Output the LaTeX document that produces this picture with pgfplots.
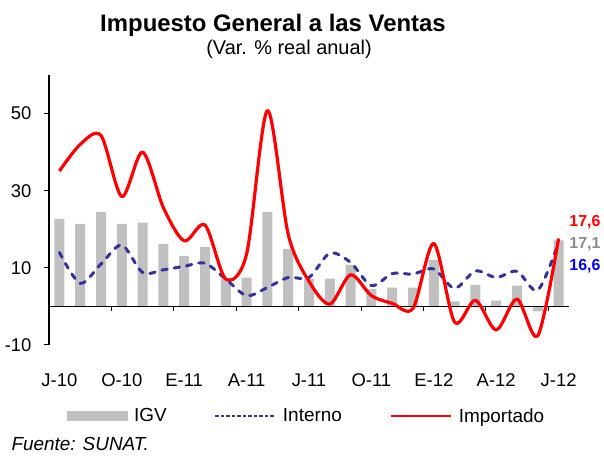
\documentclass[border=0pt]{standalone}
\usepackage{pgfplots}
\pgfplotsset{compat=1.18}
\usepackage{pgfplotstable}
\usepackage{fontspec}
\setmainfont{Liberation Sans}
\definecolor{igv}{HTML}{C0C0C0}
\definecolor{interno}{HTML}{333399}
\definecolor{importado}{HTML}{FF0000}
\definecolor{lblblue}{HTML}{0000FF}
\definecolor{lblgray}{HTML}{8C8C8C}

\pgfplotstableread{
i  igv   interno importado
0  22.7  14.0    35.1
1  21.4  6.0     42.0
2  24.5  11.0    44.3
3  21.4  15.9    28.5
4  21.7  8.8     40.0
5  16.2  9.5     25.6
6  13.1  10.4    17.0
7  15.4  11.2    21.1
8  7.3   7.1     7.1
9  7.5   2.8     13.6
10 24.5  4.9     50.8
11 14.9  7.5     18.7
12 7.1   7.5     6.5
13 7.2   13.8    0.6
14 10.8  11.4    8.2
15 4.5   5.4     2.8
16 4.9   8.5     0.8
17 4.9   8.4     -0.5
18 12.1  9.7     16.3
19 1.3   4.7     -4.1
20 5.6   9.2     1.6
21 1.5   7.5     -6.1
22 5.4   9.1     1.9
23 -1.3  4.2     -7.6
24 17.1  16.6    17.6
}\datatable

\pgfplotstableread{
x    y
2.5  -1.1
5.5  -1.1
8.5  -1.1
11.5 -1.1
14.5 -1.1
17.5 -1.1
20.5 -1.1
23.5 -1.1
}\ticktable

\begin{document}
\begin{tikzpicture}
\useasboundingbox (0,0) rectangle (604bp,457bp);
\node[anchor=base, font=\fontsize{24}{28}\selectfont\bfseries] at (273bp,425bp) {Impuesto General a las Ventas};
\node[anchor=base, font=\fontsize{20}{24}\selectfont] at (289bp,402bp) {(Var. \% real anual)};
\begin{axis}[
  at={(49bp,112bp)}, anchor=south west,
  scale only axis, width=520bp, height=270bp,
  xmin=-0.5, xmax=24.5, ymin=-10, ymax=60,
  axis y line=left, axis x line*=bottom,
  axis line style={-, line width=1.2bp, black},
  x axis line style={draw=none},
  ytick={-10,10,30,50},
  xtick={0,3,...,24},
  xticklabels={J-10,O-10,E-11,A-11,J-11,O-11,E-12,A-12,J-12},
  tick align=outside,
  major tick length=5bp,
  y tick style={black, line width=1bp},
  x tick style={draw=none},
  ticklabel style={font=\fontsize{18.5}{22}\selectfont},
  xticklabel style={yshift=-20bp},
  yticklabel style={xshift=-9bp},
  /pgf/number format/assume math mode=true,
  clip=false,
  legend style={at={(0.495,-0.263)}, anchor=center, draw=none, fill=none,
    font=\fontsize{19}{22}\selectfont,
    /tikz/every odd column/.append style={column sep=5bp},
    /tikz/every even column/.append style={column sep=46bp}},
  legend columns=3,
  legend image code/.code={\draw[#1] (0bp,0bp) -- (60bp,0bp);},
]
\addplot[ybar, bar width=10bp, fill=igv, draw=none, forget plot] table[x=i, y=igv] {\datatable};
\addplot[black, line width=1.2bp, forget plot] coordinates {(-0.5,0) (24.5,0)};
\addplot[ycomb, black, line width=1bp, mark=none, forget plot] table[x=x, y=y] {\ticktable};
\addplot[interno, line width=3bp, line cap=round, dash pattern=on 5.5bp off 7bp, smooth, tension=0.5, forget plot] table[x=i, y=interno] {\datatable};
\addplot[importado, line width=3.2bp, line join=round, smooth, tension=0.5, forget plot] table[x=i, y=importado] {\datatable};

\addlegendimage{legend image code/.code={\fill[igv] (0bp,-4.5bp) rectangle (60bp,4.5bp);}}
\addlegendentry{IGV}
\addlegendimage{interno, line width=1.3bp, dash pattern=on 3.5bp off 2bp}
\addlegendentry{Interno}
\addlegendimage{importado, line width=2bp}
\addlegendentry{Importado}

\node[anchor=west, text=importado, font=\fontsize{16}{19}\selectfont\bfseries] at (axis cs:24.35,21.9) {17,6};
\node[anchor=west, text=lblgray, font=\fontsize{16}{19}\selectfont\bfseries] at (axis cs:24.35,16.2) {17,1};
\node[anchor=west, text=lblblue, font=\fontsize{16}{19}\selectfont\bfseries] at (axis cs:24.35,10.5) {16,6};
\end{axis}
\node[anchor=base west, font=\fontsize{19}{22}\selectfont\itshape] at (8bp,7bp) {Fuente: SUNAT.};
\end{tikzpicture}
\end{document}
